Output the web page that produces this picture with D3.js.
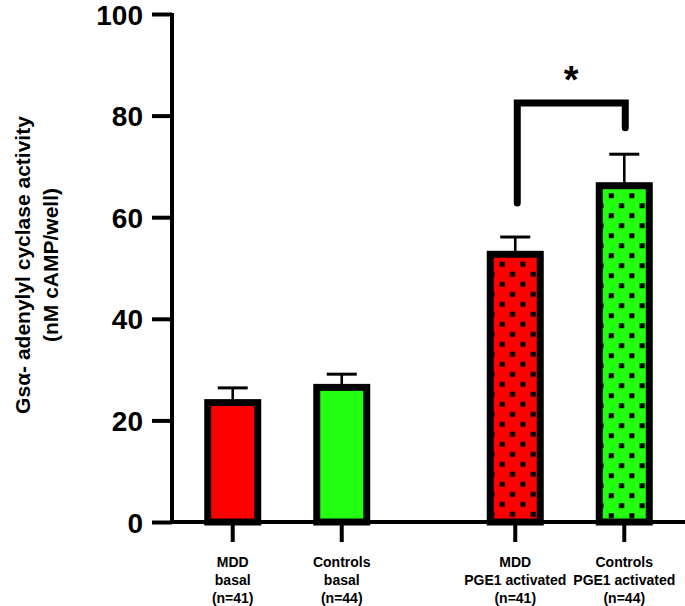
<!DOCTYPE html>
<html>
<head>
<meta charset="utf-8">
<script src="https://cdn.jsdelivr.net/npm/d3@7"></script>
<style>
  html, body { margin: 0; padding: 0; background: #fff; }
  svg { display: block; }
  text { font-family: "Liberation Sans", Arial, sans-serif; font-weight: bold; fill: #000; }
</style>
</head>
<body>
<svg id="chart" width="685" height="606"></svg>
<script>
// ---- data ----
const groups = ["basal", "PGE1 activated"];
const subgroups = ["MDD", "Controls"];
const barGroup = ["basal", "basal", "PGE1 activated", "PGE1 activated"];
const barSubgroup = ["MDD", "Controls", "MDD", "Controls"];
const nValues = [41, 44, 41, 44];
const means = [23.5, 26.5, 52.7, 66.2];
const sems = [2.9, 2.6, 3.4, 6.2];
const fills = ["#ff0000", "#22ff11", "#ff0000", "#22ff11"];
const dotted = [false, false, true, true];
const yTicks = [0, 20, 40, 60, 80, 100];
const yTitle = ["Gs\u03b1- adenylyl cyclase activity", "(nM cAMP/well)"];
// significance bracket between bar 2 and bar 3
const bracketBars = [2, 3];
const bracketTop = 82.5;
const bracketEnds = [62.8, 77.6];
const bracketLabel = "*";

// ---- layout ----
const svg = d3.select("#chart");
const x0Left = 172, x0Right = 685;
const y = d3.scaleLinear().domain([0, 100]).range([522, 14]);
const x0 = d3.scaleBand().domain(groups).range([x0Left, x0Right])
  .paddingInner(0.2283).paddingOuter(0.022);
const x1 = d3.scaleBand().domain(subgroups).range([0, x0.bandwidth()]).padding(0);
const cx = i => x0(barGroup[i]) + x1(barSubgroup[i]) + x1.bandwidth() / 2;
const barW = 50;

const bars = means.map((m, i) => ({ i, m, s: sems[i], fill: fills[i], dotted: dotted[i] }));

// patterns
const defs = svg.append("defs");
bars.filter(d => d.dotted).forEach(d => {
  const px = cx(d.i) - barW / 2 + 12;
  const py = y(d.m) + 10;
  const p = defs.append("pattern")
    .attr("id", "dots" + d.i)
    .attr("patternUnits", "userSpaceOnUse")
    .attr("x", px - 2.5).attr("y", py - 2.5)
    .attr("width", 20.6).attr("height", 20);
  p.append("rect").attr("width", 20.6).attr("height", 20).attr("fill", d.fill);
  p.append("rect").attr("x", 0).attr("y", 0).attr("width", 5).attr("height", 5).attr("fill", "#000");
  p.append("rect").attr("x", 10.3).attr("y", 10).attr("width", 5).attr("height", 5).attr("fill", "#000");
});

// error bars (upper only)
const eb = svg.append("g");
bars.forEach(d => {
  eb.append("line")
    .attr("x1", cx(d.i)).attr("x2", cx(d.i))
    .attr("y1", y(d.m)).attr("y2", y(d.m + d.s))
    .attr("stroke", "#000").attr("stroke-width", 2.6);
  eb.append("line")
    .attr("x1", cx(d.i) - 15).attr("x2", cx(d.i) + 15)
    .attr("y1", y(d.m + d.s)).attr("y2", y(d.m + d.s))
    .attr("stroke", "#000").attr("stroke-width", 3);
});

// bars
svg.append("g").selectAll("rect").data(bars).join("rect")
  .attr("x", d => cx(d.i) - barW / 2)
  .attr("width", barW)
  .attr("y", d => y(d.m))
  .attr("height", d => y(0) - y(d.m))
  .attr("fill", d => d.dotted ? `url(#dots${d.i})` : d.fill)
  .attr("stroke", "#000")
  .attr("stroke-width", 7);

// y axis
const yAxis = svg.append("g").attr("transform", `translate(${x0Left},0)`)
  .call(d3.axisLeft(y).tickValues(yTicks).tickSize(20).tickPadding(9).tickSizeOuter(0));
yAxis.select(".domain").attr("stroke", "#000").attr("stroke-width", 4)
  .attr("d", `M0,${y(0) + 2}V${y(100) - 1}`);
yAxis.selectAll(".tick line").attr("stroke", "#000").attr("stroke-width", 4);
yAxis.selectAll(".tick text")
  .style("font-size", "28px").style("font-weight", "bold")
  .style("font-family", "'Liberation Sans', Arial, sans-serif")
  .attr("fill", "#000").attr("dy", "0.36em");

// x axis
const xAxisG = svg.append("g").attr("transform", `translate(0,${y(0)})`);
xAxisG.append("line").attr("x1", x0Left - 2).attr("x2", x0Right)
  .attr("stroke", "#000").attr("stroke-width", 4);
bars.forEach(d => {
  xAxisG.append("line").attr("x1", cx(d.i)).attr("x2", cx(d.i))
    .attr("y1", 0).attr("y2", 20)
    .attr("stroke", "#000").attr("stroke-width", 4);
  const t = xAxisG.append("text").attr("text-anchor", "middle")
    .style("font-size", "14px");
  [barSubgroup[d.i], barGroup[d.i], `(n=${nValues[d.i]})`].forEach((s, k) => {
    t.append("tspan").attr("x", cx(d.i)).attr("y", 45 + k * 18).text(s);
  });
});

// y title
const yt = svg.append("text")
  .attr("transform", `translate(0,${265}) rotate(-90)`)
  .attr("text-anchor", "middle")
  .style("font-size", "21px");
yt.append("tspan").attr("x", 0).attr("y", 30).text(yTitle[0]);
yt.append("tspan").attr("x", 0).attr("y", 58).text(yTitle[1]);

// significance bracket
const bx1 = cx(bracketBars[0]) + 2, bx2 = cx(bracketBars[1]) + 1;
svg.append("path")
  .attr("d", `M${bx1},${y(bracketEnds[0])}V${y(bracketTop)}H${bx2}V${y(bracketEnds[1])}`)
  .attr("fill", "none").attr("stroke", "#000").attr("stroke-width", 7)
  .attr("stroke-linecap", "round").attr("stroke-linejoin", "miter");
svg.append("text")
  .attr("x", (bx1 + bx2) / 2).attr("y", y(bracketTop) - 10)
  .attr("text-anchor", "middle")
  .style("font-size", "38px")
  .text(bracketLabel);
</script>
</body>
</html>
